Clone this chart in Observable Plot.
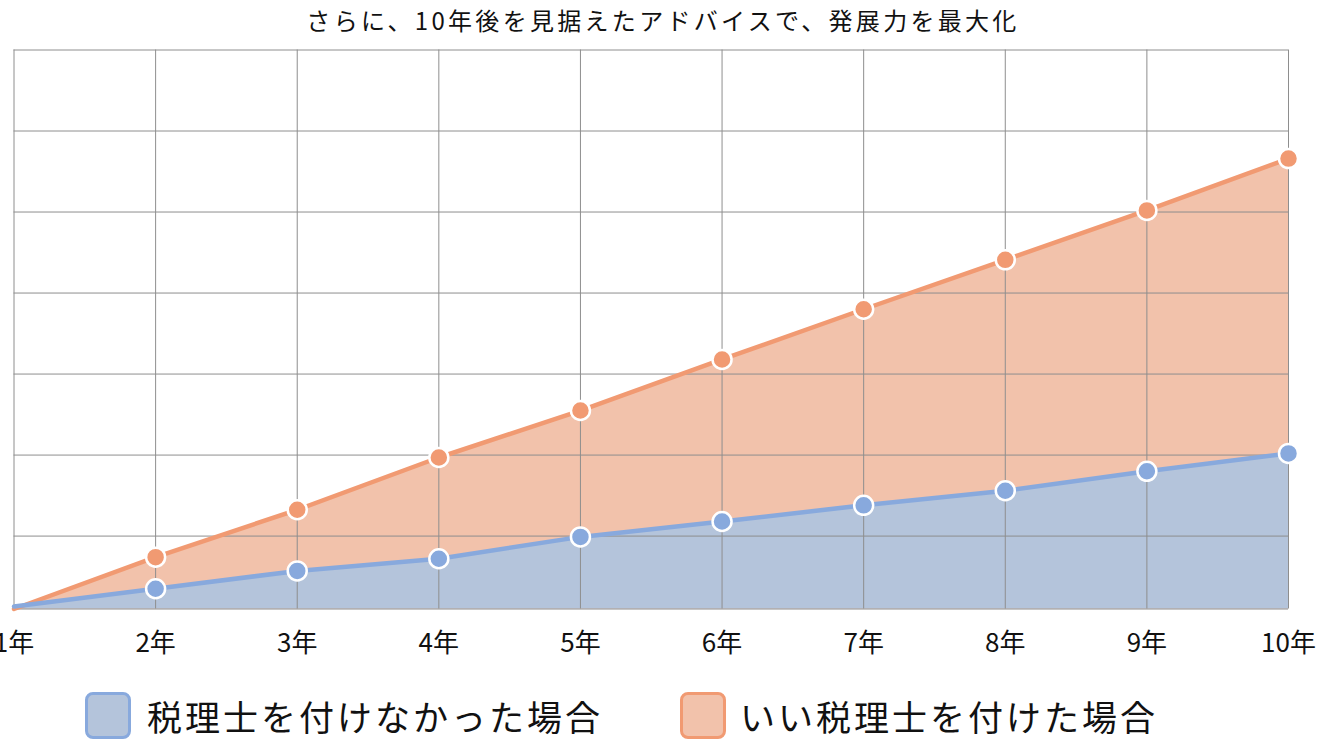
<!DOCTYPE html>
<html>
<head>
<meta charset="utf-8">
<script src="https://cdn.jsdelivr.net/npm/d3@7"></script>
<script src="https://cdn.jsdelivr.net/npm/@observablehq/plot@0.6"></script>
<style>
  html, body { margin: 0; padding: 0; background: #fff; }
  body { width: 1326px; height: 744px; position: relative; overflow: hidden;
         font-family: "Noto Sans CJK JP", "Noto Sans", sans-serif; color: #111; }
  #title { position: absolute; left: 0; top: 2px; width: 1326px; text-align: center;
           font-size: 24px; letter-spacing: 3.3px; line-height: 36px; }
  #chart { position: absolute; left: 0; top: 40px; }
  .sw { position: absolute; top: 692px; width: 46px; height: 47px; box-sizing: border-box;
        border: 3px solid; border-radius: 8px; }
  .lt { position: absolute; top: 692px; font-size: 35px; letter-spacing: 3px; line-height: 48px; white-space: nowrap; }
</style>
</head>
<body>
<div id="title"></div>
<div id="chart"></div>
<div id="legend"></div>
<script>
const titleText = "さらに、10年後を見据えたアドバイスで、発展力を最大化";
const years = [1, 2, 3, 4, 5, 6, 7, 8, 9, 10];
const withoutAdvisor = [0.3, 2.5, 4.7, 6.2, 8.9, 10.8, 12.8, 14.6, 17.0, 19.2];
const withGoodAdvisor = [0, 6.4, 12.25, 18.7, 24.5, 30.8, 37.0, 43.1, 49.2, 55.6];
const seriesNames = ["税理士を付けなかった場合", "いい税理士を付けた場合"];
const gridValues = [0, 9, 19, 29, 39, 49, 59, 69];
const yMax = 69;

const colors = {
  blueLine: "#88a9dd", blueFill: "#b4c4db",
  orangeLine: "#f19a72", orangeFill: "#f2c2ab",
  grid: "#8e8e8e"
};

document.getElementById("title").textContent = titleText;

const blueData = years.map((y, i) => ({year: y, value: withoutAdvisor[i]}));
const orangeData = years.map((y, i) => ({year: y, value: withGoodAdvisor[i]}));

const chart = Plot.plot({
  width: 1326,
  height: 620,
  marginLeft: 13.5,
  marginRight: 38,
  marginTop: 9.5,
  marginBottom: 51.5,
  style: {fontFamily: '"Noto Sans CJK JP", sans-serif', overflow: "visible", background: "transparent"},
  x: {domain: [1, 10], label: null},
  y: {domain: [0, yMax], label: null},
  marks: [
    Plot.areaY(orangeData, {x: "year", y: "value", fill: colors.orangeFill}),
    Plot.areaY(blueData, {x: "year", y: "value", fill: colors.blueFill}),
    Plot.ruleY(gridValues, {stroke: colors.grid, strokeWidth: 1}),
    Plot.ruleX(years, {stroke: colors.grid, strokeWidth: 1}),
    Plot.lineY(orangeData, {x: "year", y: "value", stroke: colors.orangeLine, strokeWidth: 4.5}),
    Plot.lineY(blueData, {x: "year", y: "value", stroke: colors.blueLine, strokeWidth: 4.5}),
    Plot.dot(orangeData.slice(1), {x: "year", y: "value", r: 9.5, fill: colors.orangeLine, stroke: "white", strokeWidth: 2.5}),
    Plot.dot(blueData.slice(1), {x: "year", y: "value", r: 9.5, fill: colors.blueLine, stroke: "white", strokeWidth: 2.5}),
    Plot.axisX(years, {tickSize: 0, tickPadding: 25, fontSize: 26, fill: "#111", label: null, tickFormat: d => d + "年"}),
    Plot.axisY({ticks: [], label: null})
  ]
});
document.getElementById("chart").appendChild(chart);

const legend = document.getElementById("legend");
const legendItems = [
  {name: seriesNames[0], fill: colors.blueFill, stroke: colors.blueLine, sx: 85, tx: 147},
  {name: seriesNames[1], fill: colors.orangeFill, stroke: colors.orangeLine, sx: 680, tx: 740}
];
for (const it of legendItems) {
  const sw = document.createElement("div");
  sw.className = "sw";
  sw.style.left = it.sx + "px";
  sw.style.background = it.fill;
  sw.style.borderColor = it.stroke;
  legend.appendChild(sw);
  const t = document.createElement("div");
  t.className = "lt";
  t.style.left = it.tx + "px";
  t.textContent = it.name;
  legend.appendChild(t);
}
</script>
</body>
</html>
